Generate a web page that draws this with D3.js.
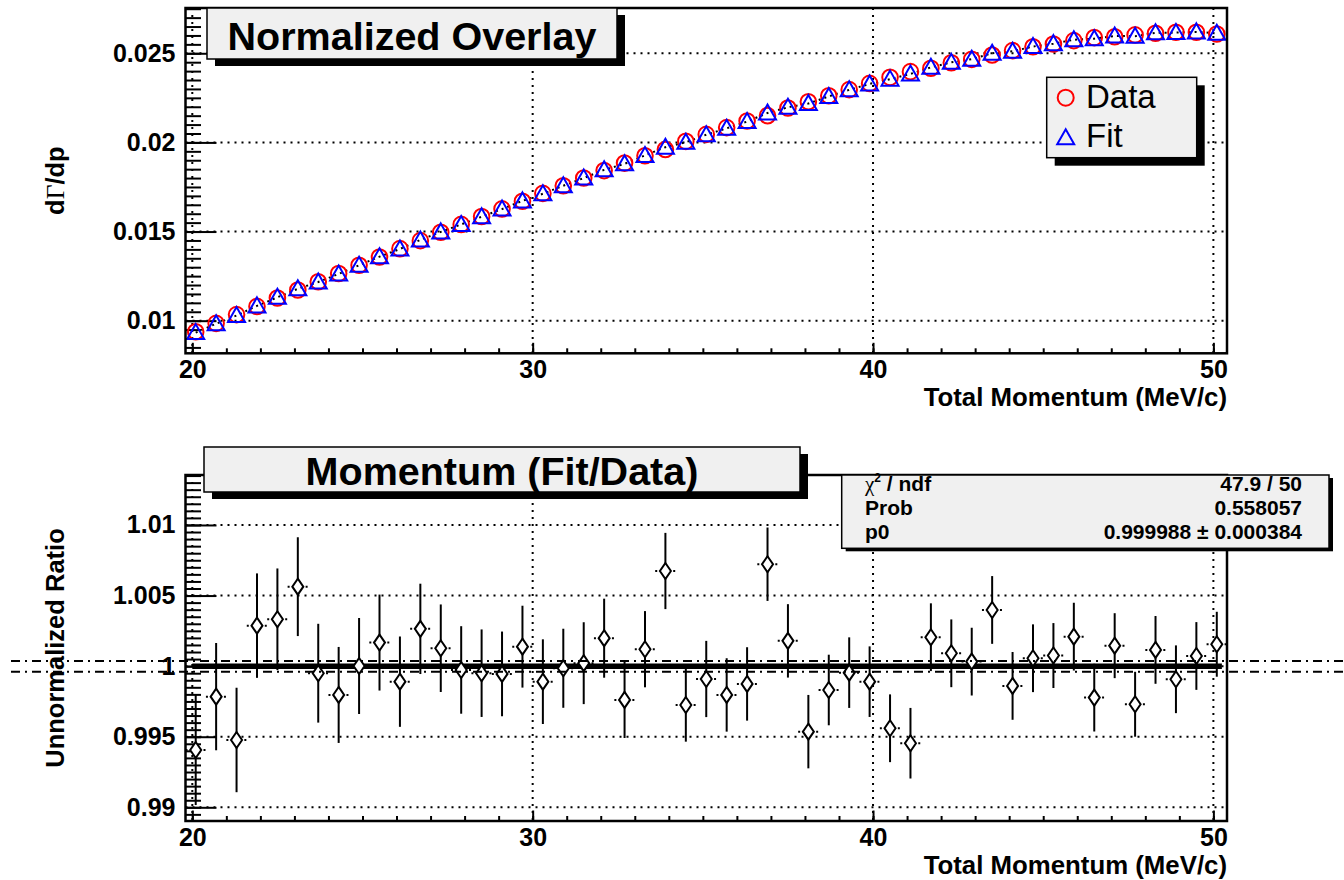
<!DOCTYPE html>
<html>
<head>
<meta charset="utf-8">
<script src="https://cdn.jsdelivr.net/npm/d3@7"></script>
<style>
  body { margin: 0; background: #fff; }
  svg text { font-family: "Liberation Sans", Arial, Helvetica, sans-serif; }
</style>
</head>
<body>
<div id="chart"></div>
<script>
// bin centres (MeV/c), 0.6 wide bins from 19.8 to 50.4
const momentum = [20.1, 20.7, 21.3, 21.9, 22.5, 23.1, 23.7, 24.3, 24.9, 25.5,
  26.1, 26.7, 27.3, 27.9, 28.5, 29.1, 29.7, 30.3, 30.9, 31.5,
  32.1, 32.7, 33.3, 33.9, 34.5, 35.1, 35.7, 36.3, 36.9, 37.5,
  38.1, 38.7, 39.3, 39.9, 40.5, 41.1, 41.7, 42.3, 42.9, 43.5,
  44.1, 44.7, 45.3, 45.9, 46.5, 47.1, 47.7, 48.3, 48.9, 49.5, 50.1];

// normalized overlay (dGamma/dp)
const dataValues = [0.00938, 0.00985, 0.01034, 0.01080, 0.01127, 0.01172, 0.01218, 0.01265, 0.01311, 0.01357,
  0.01404, 0.01449, 0.01496, 0.01540, 0.01584, 0.01627, 0.01670, 0.01714, 0.01757, 0.01800,
  0.01842, 0.01884, 0.01925, 0.01960, 0.02006, 0.02045, 0.02083, 0.02120, 0.02150, 0.02193,
  0.02228, 0.02262, 0.02296, 0.02331, 0.02365, 0.02397, 0.02416, 0.02447, 0.02466, 0.02490,
  0.02515, 0.02537, 0.02552, 0.02571, 0.02588, 0.02593, 0.02603, 0.02612, 0.02618, 0.02618, 0.02608];
const fitValues = [0.00933, 0.00983, 0.01029, 0.01083, 0.01131, 0.01179, 0.01217, 0.01262, 0.01311, 0.01359,
  0.01402, 0.01453, 0.01498, 0.01540, 0.01583, 0.01626, 0.01672, 0.01712, 0.01757, 0.01800,
  0.01846, 0.01880, 0.01927, 0.01973, 0.02001, 0.02043, 0.02079, 0.02117, 0.02165, 0.02197,
  0.02218, 0.02258, 0.02295, 0.02328, 0.02355, 0.02384, 0.02421, 0.02449, 0.02467, 0.02500,
  0.02511, 0.02538, 0.02554, 0.02576, 0.02582, 0.02597, 0.02596, 0.02615, 0.02616, 0.02620, 0.02612];

// Fit/Data ratio with errors
const ratioValues = [0.99406, 0.99784, 0.99477, 1.00287, 1.00332, 1.00563, 0.99950, 0.99796, 1.00001, 1.00167,
  0.99890, 1.00264, 1.00127, 0.99973, 0.99950, 0.99945, 1.00138, 0.99890, 0.99985, 1.00021,
  1.00198, 0.99761, 1.00120, 1.00674, 0.99725, 0.99909, 0.99796, 0.99874, 1.00722, 1.00179,
  0.99536, 0.99831, 0.99954, 0.99890, 0.99560, 0.99454, 1.00205, 1.00091, 1.00032, 1.00398,
  0.99860, 1.00056, 1.00075, 1.00209, 0.99777, 1.00145, 0.99730, 1.00115, 0.99907, 1.00072, 1.00155];
const ratioErrors = [0.0039, 0.0038, 0.0037, 0.0037, 0.0036, 0.0035, 0.0035, 0.0034, 0.0034, 0.0034,
  0.0032, 0.0032, 0.0031, 0.0031, 0.0031, 0.0030, 0.0029, 0.0030, 0.0028, 0.0029,
  0.0028, 0.0027, 0.0027, 0.0027, 0.0026, 0.0027, 0.0026, 0.0026, 0.0026, 0.0026,
  0.0026, 0.0025, 0.0025, 0.0025, 0.0024, 0.0025, 0.0024, 0.0024, 0.0024, 0.0024,
  0.0024, 0.0024, 0.0023, 0.0024, 0.0024, 0.0023, 0.0023, 0.0024, 0.0024, 0.0024, 0.0023];

const fitP0 = 0.999988;
const fitP0Err = 0.000384;
const fitRange = [20, 50.25];

const xTicks = [20, 30, 40, 50];
const topYTicks = [0.01, 0.015, 0.02, 0.025];
const botYTicks = [0.99, 0.995, 1, 1.005, 1.01];
const legendItems = ["Data", "Fit"];
const statsRows = [["/ ndf", "47.9 / 50"], ["Prob", "0.558057"], ["p0", "0.999988 \u00b1 0.000384"]];

(function () {
  const W = 1344, H = 880;
  const svg = d3.select("#chart").append("svg")
    .attr("width", W).attr("height", H);
  svg.append("rect").attr("width", W).attr("height", H).attr("fill", "#fff");

  const left = 185.5, right = 1227;
  const xDomain = [19.8, 50.4];

  // draws grid, ticks, labels for one pad; returns scales
  function pad(top, bottom, yDomain, yMajor, yMinor, yTitle) {
    const g = svg.append("g");
    const x = d3.scaleLinear().domain(xDomain).range([left, right]);
    const y = d3.scaleLinear().domain(yDomain).range([bottom, top]);

    // dotted grid
    g.selectAll("line.gx").data(xTicks).join("line")
      .attr("x1", d => x(d)).attr("x2", d => x(d))
      .attr("y1", top).attr("y2", bottom)
      .attr("stroke", "#000").attr("stroke-width", 2).attr("stroke-dasharray", "2,5");
    g.selectAll("line.gy").data(yMajor).join("line")
      .attr("x1", left).attr("x2", right)
      .attr("y1", d => y(d)).attr("y2", d => y(d))
      .attr("stroke", "#000").attr("stroke-width", 2).attr("stroke-dasharray", "2,5");

    // ticks (inside the frame)
    const xMinorAx = g.append("g").attr("transform", `translate(0,${bottom})`)
      .call(d3.axisBottom(x).tickValues(d3.range(20, 51)).tickSize(-5).tickFormat(""));
    const xAx = g.append("g").attr("transform", `translate(0,${bottom})`)
      .call(d3.axisBottom(x).tickValues(xTicks).tickSize(-10.5).tickPadding(7).tickFormat(d => d));
    const yMinorAx = g.append("g").attr("transform", `translate(${left},0)`)
      .call(d3.axisLeft(y).tickValues(yMinor).tickSize(-15.5).tickFormat(""));
    const yAx = g.append("g").attr("transform", `translate(${left},0)`)
      .call(d3.axisLeft(y).tickValues(yMajor).tickSize(-31).tickPadding(10).tickFormat(d => d));

    [xMinorAx, xAx, yMinorAx, yAx].forEach(a => {
      a.select(".domain").remove();
      a.selectAll(".tick line").attr("stroke", "#000").attr("stroke-width", 2);
      a.selectAll(".tick text").attr("fill", "#000")
        .style("font-size", "25px").style("font-weight", "bold");
    });

    // axis titles
    g.append("text").attr("x", right).attr("y", bottom + 52.5)
      .attr("text-anchor", "end")
      .style("font-size", "25.8px").style("font-weight", "bold")
      .text("Total Momentum (MeV/c)");
    const yt = g.append("text")
      .attr("transform", `translate(64,${(top + bottom) / 2}) rotate(-90)`)
      .attr("text-anchor", "middle")
      .style("font-size", "25.5px").style("font-weight", "bold");
    yTitle(yt);

    return { g, x, y, top, bottom };
  }

  function frame(p) {
    p.g.append("rect").attr("x", left).attr("y", p.top)
      .attr("width", right - left).attr("height", p.bottom - p.top)
      .attr("fill", "none").attr("stroke", "#000").attr("stroke-width", 2.5);
  }

  function paveBox(x0, y0, w, h, dx, dy) {
    svg.append("rect").attr("x", x0 + dx).attr("y", y0 + dy).attr("width", w).attr("height", h)
      .attr("fill", "#000");
    svg.append("rect").attr("x", x0).attr("y", y0).attr("width", w).attr("height", h)
      .attr("fill", "#f0f0f0").attr("stroke", "#000").attr("stroke-width", 1.5);
  }

  // ---------- top pad: normalized overlay ----------
  const topMinor = d3.range(17, 56).map(i => i * 0.0005);
  const p1 = pad(8, 353.3, [0.00817, 0.02754], topYTicks, topMinor, t => {
    t.append("tspan").text("d");
    t.append("tspan").style("font-family", "'Liberation Serif', 'DejaVu Serif', serif")
      .style("font-weight", "normal").text("\u0393");
    t.append("tspan").text("/dp");
  });

  const pts = momentum.map((m, i) => ({ m, data: dataValues[i], fit: fitValues[i] }));

  // dotted curve of the fit
  p1.g.append("path").datum(pts)
    .attr("d", d3.line().x(d => p1.x(d.m)).y(d => p1.y(d.fit)))
    .attr("fill", "none").attr("stroke", "#000").attr("stroke-width", 2)
    .attr("stroke-dasharray", "2,4");

  p1.g.selectAll("circle.data").data(pts).join("circle")
    .attr("cx", d => p1.x(d.m)).attr("cy", d => p1.y(d.data)).attr("r", 7.8)
    .attr("fill", "none").attr("stroke", "#ff0000").attr("stroke-width", 2);

  const tri = "M0,-8.5L8.5,6.5L-8.5,6.5Z";
  p1.g.selectAll("path.fit").data(pts).join("path")
    .attr("transform", d => `translate(${p1.x(d.m)},${p1.y(d.fit)})`)
    .attr("d", tri)
    .attr("fill", "none").attr("stroke", "#0000ff").attr("stroke-width", 2);

  frame(p1);

  // title box
  paveBox(207, 8, 410, 51, 8, 7);
  svg.append("text").attr("x", 412).attr("y", 50).attr("text-anchor", "middle")
    .style("font-size", "39.5px").style("font-weight", "bold").text("Normalized Overlay");

  // legend
  paveBox(1046.7, 77.3, 150, 80.4, 8, 8);
  const leg = svg.append("g");
  leg.append("circle").attr("cx", 1065.7).attr("cy", 97.7).attr("r", 8)
    .attr("fill", "none").attr("stroke", "#ff0000").attr("stroke-width", 2);
  leg.append("path").attr("transform", "translate(1065.7,137.7)").attr("d", tri)
    .attr("fill", "none").attr("stroke", "#0000ff").attr("stroke-width", 2);
  leg.selectAll("text").data(legendItems).join("text")
    .attr("x", 1086).attr("y", (d, i) => 108 + i * 39)
    .style("font-size", "33px").text(d => d);

  // ---------- bottom pad: ratio ----------
  const botMinor = d3.range(1979, 2028).map(i => i * 0.0005);
  const p2 = pad(475, 821, [0.98903, 1.01354], botYTicks, botMinor, t => {
    t.text("Unnormalized Ratio");
  });

  const rpts = momentum.map((m, i) => ({ m, v: ratioValues[i], e: ratioErrors[i] }));

  // p0 +- error band edges, drawn across the whole canvas as in the original
  svg.selectAll("line.band").data([fitP0 + fitP0Err, fitP0 - fitP0Err]).join("line")
    .attr("x1", 11).attr("x2", W)
    .attr("y1", d => p2.y(d)).attr("y2", d => p2.y(d))
    .attr("stroke", "#000").attr("stroke-width", 2).attr("stroke-dasharray", "9,5,2,5");

  // fit line
  p2.g.append("line")
    .attr("x1", p2.x(fitRange[0])).attr("x2", p2.x(fitRange[1]))
    .attr("y1", p2.y(fitP0)).attr("y2", p2.y(fitP0))
    .attr("stroke", "#000").attr("stroke-width", 5.5);

  const eg = p2.g.selectAll("g.pt").data(rpts).join("g")
    .attr("transform", d => `translate(${p2.x(d.m)},0)`);
  eg.append("line")
    .attr("y1", d => p2.y(d.v - d.e)).attr("y2", d => p2.y(d.v + d.e))
    .attr("stroke", "#000").attr("stroke-width", 2);
  eg.append("line")
    .attr("x1", -10.2).attr("x2", 10.2)
    .attr("y1", d => p2.y(d.v)).attr("y2", d => p2.y(d.v))
    .attr("stroke", "#000").attr("stroke-width", 2).attr("stroke-dasharray", "2,2.5");
  eg.append("path")
    .attr("transform", d => `translate(0,${p2.y(d.v)})`)
    .attr("d", "M0,-8L5.5,0L0,8L-5.5,0Z")
    .attr("fill", "#fff").attr("stroke", "#000").attr("stroke-width", 2);

  frame(p2);

  paveBox(204, 447, 596, 45, 8, 7);
  svg.append("text").attr("x", 502).attr("y", 485).attr("text-anchor", "middle")
    .style("font-size", "39.5px").style("font-weight", "bold").text("Momentum (Fit/Data)");

  // stats box
  paveBox(841.7, 475, 487.3, 73.3, 4, 3);
  const st = svg.append("g").style("font-size", "21px").style("font-weight", "bold");
  const baselines = [491, 515, 539];
  statsRows.forEach((r, i) => {
    const t = st.append("text").attr("x", 865).attr("y", baselines[i]);
    if (i === 0) {
      t.append("tspan").style("font-family", "'Liberation Serif', 'DejaVu Serif', serif")
        .style("font-weight", "normal").text("\u03c7");
      t.append("tspan").attr("dy", -9).style("font-size", "12px").text("2");
      t.append("tspan").attr("dy", 9).text(" " + r[0]);
    } else {
      t.text(r[0]);
    }
    st.append("text").attr("x", 1302).attr("y", baselines[i]).attr("text-anchor", "end").text(r[1]);
  });
})();
</script>
</body>
</html>
